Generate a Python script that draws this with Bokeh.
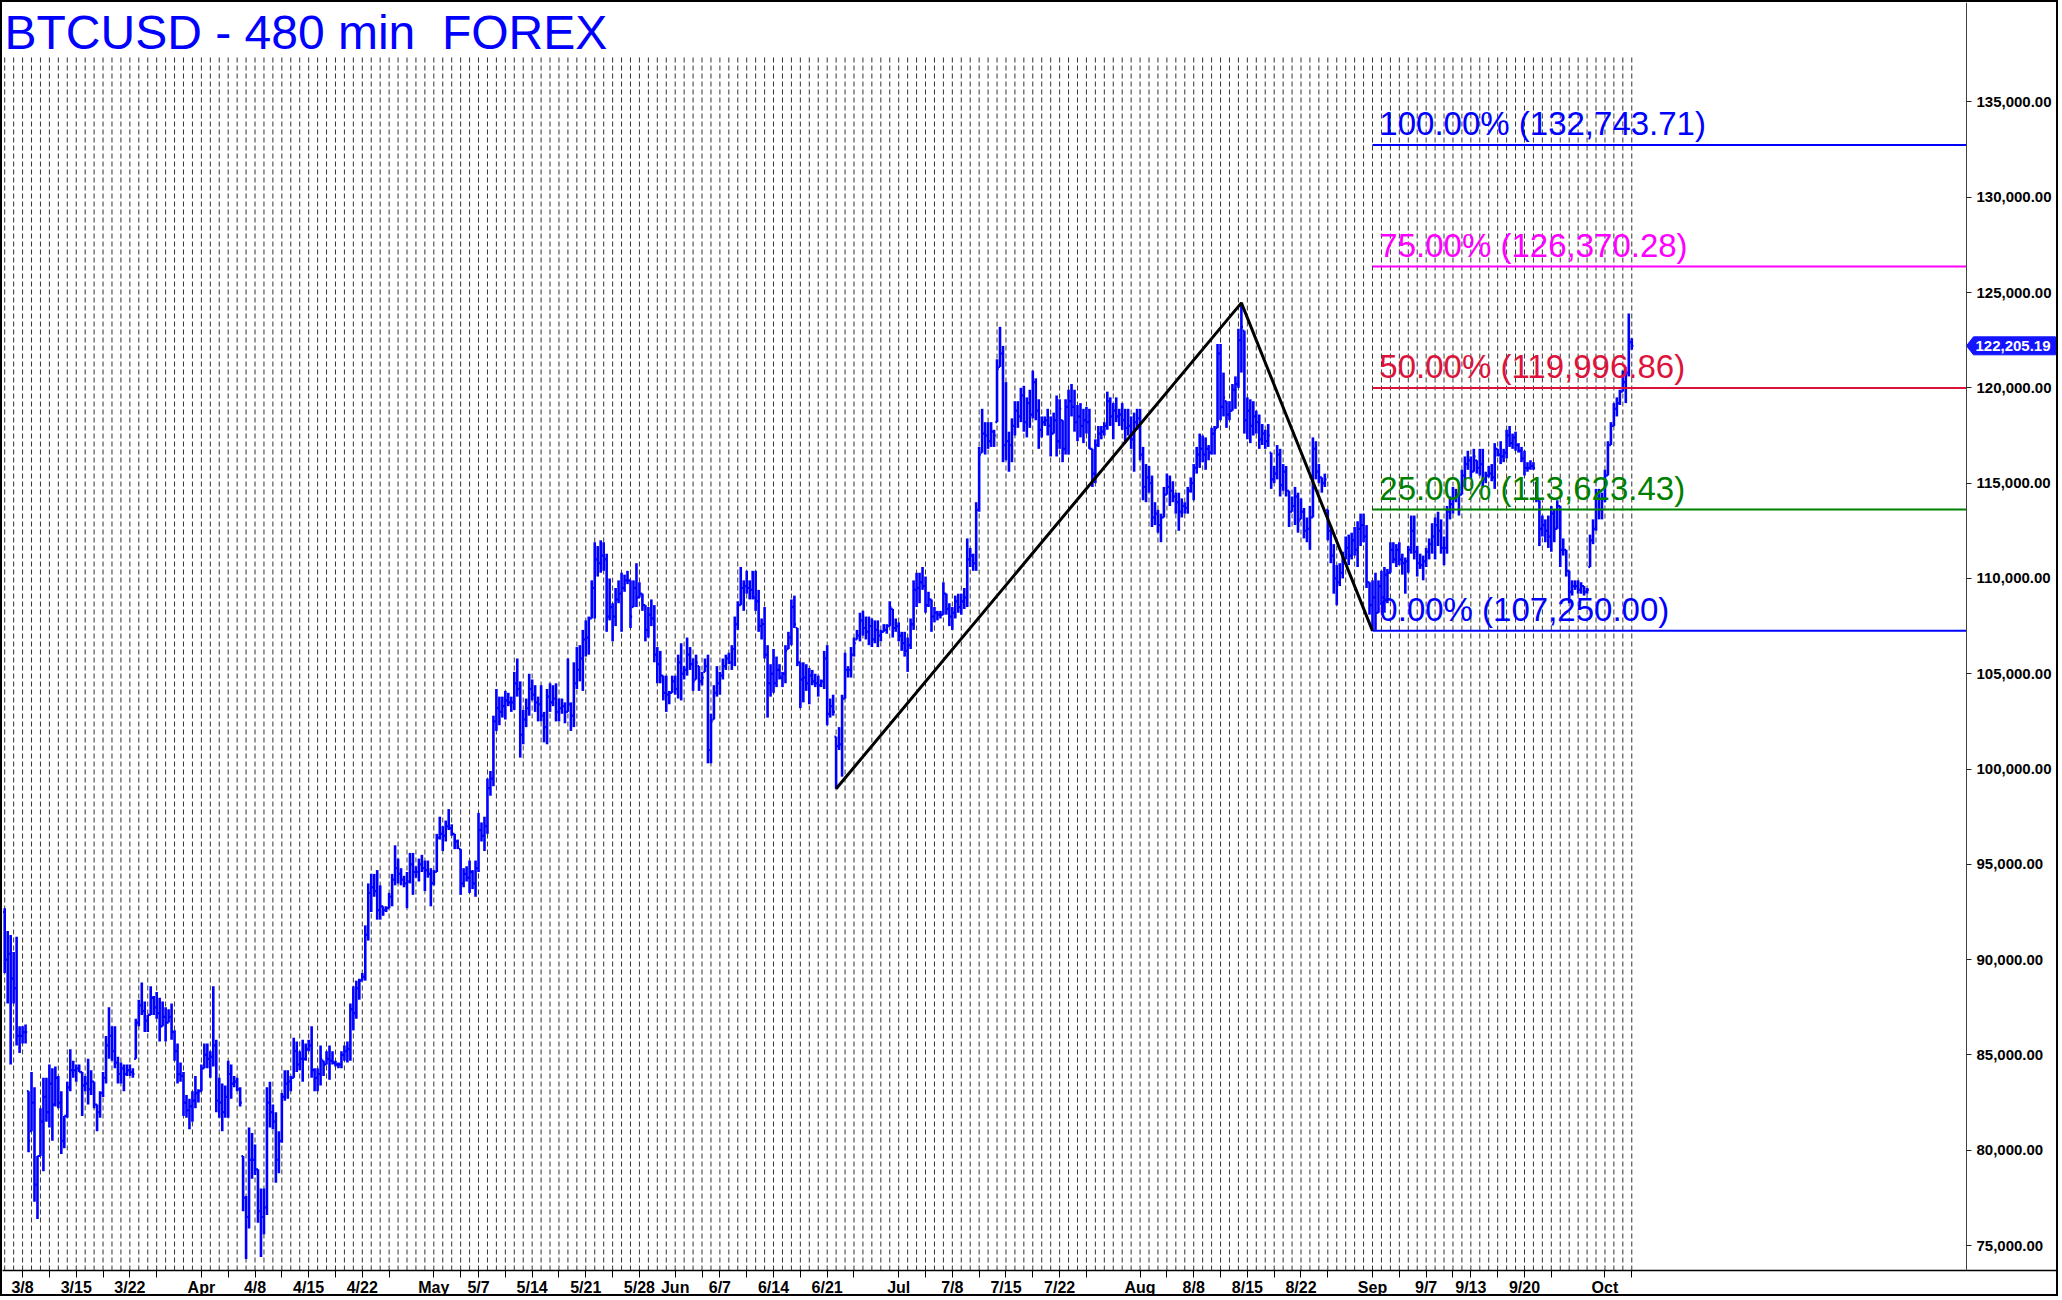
from datetime import date, timedelta
from decimal import Decimal, ROUND_HALF_UP
from bokeh.plotting import figure
from bokeh.models import Range1d, FixedTicker, NumeralTickFormatter, ColumnDataSource
from bokeh.core.properties import value
from bokeh.embed import file_html
from bokeh.resources import INLINE

# ---------------- data (8-hour bars, prices in thousands USD) ----------------
high_k = [
 92.7, 91.5, 91.3, 90.4, 91.2, 86.5, 86.5, 86.6, 83.1, 84.1,
 83.3, 79.7, 82.2, 83.8, 83.8, 84.5, 84.3, 84.4, 83.9, 83.1,
 81.8, 83.6, 85.3, 84.7, 84.5, 84.5, 84.1, 83.9, 84.8, 84.2,
 83.6, 82.4, 83.1, 84.1, 86.0, 87.5, 86.5, 86.5, 84.9, 84.6,
 84.5, 84.5, 84.5, 84.3, 86.9, 87.9, 88.8, 87.8, 87.1, 88.6,
 88.1, 88.3, 88.0, 87.8, 87.5, 87.4, 87.7, 86.3, 85.6, 84.6,
 84.1, 82.9, 82.7, 83.1, 83.9, 83.2, 84.5, 85.6, 85.6, 85.2,
 88.6, 85.8, 83.8, 83.5, 83.4, 84.7, 84.5, 83.9, 83.8, 83.3,
 79.7, 77.6, 81.2, 80.9, 80.3, 79.0, 78.0, 78.0, 83.3, 83.6,
 82.4, 82.0, 81.0, 83.0, 84.2, 84.2, 83.9, 85.9, 85.7, 85.2,
 85.8, 85.6, 85.8, 86.5, 84.3, 84.3, 85.5, 84.7, 85.2, 85.5,
 85.2, 84.7, 84.6, 85.2, 85.5, 85.7, 87.7, 88.6, 88.9, 89.0,
 89.3, 91.8, 94.0, 94.5, 94.5, 94.7, 93.9, 92.8, 92.8, 93.5,
 94.5, 96.0, 95.3, 94.8, 94.4, 94.6, 95.6, 95.6, 94.9, 95.3,
 95.5, 95.2, 95.2, 94.8, 94.7, 96.6, 97.5, 97.0, 97.3, 97.9,
 97.1, 96.6, 96.3, 95.8, 94.8, 94.9, 95.2, 94.7, 95.2, 97.7,
 97.2, 97.5, 99.5, 99.9, 102.8, 104.2, 103.8, 103.8, 104.1, 104.0,
 103.8, 105.1, 105.8, 104.6, 103.1, 103.7, 105.0, 104.7, 104.4, 103.8,
 104.4, 103.0, 104.2, 104.5, 104.4, 104.5, 103.7, 103.7, 103.5, 105.8,
 103.5, 105.6, 106.4, 106.5, 107.3, 107.8, 108.0, 109.9, 111.9, 111.7,
 112.0, 111.9, 111.3, 110.0, 108.7, 109.5, 109.9, 110.3, 110.2, 110.4,
 109.9, 109.9, 110.8, 109.8, 109.2, 108.6, 108.5, 108.9, 108.6, 106.4,
 106.2, 104.9, 104.9, 104.1, 104.9, 104.9, 106.0, 106.6, 105.4, 106.9,
 106.4, 105.8, 106.0, 105.4, 105.1, 105.8, 106.0, 102.9, 104.4, 105.4,
 105.1, 105.8, 106.0, 106.1, 106.5, 108.0, 108.8, 110.6, 109.9, 110.4,
 109.9, 110.4, 110.4, 109.4, 107.9, 108.5, 106.5, 105.5, 106.3, 105.9,
 105.5, 105.1, 106.5, 107.2, 108.9, 109.1, 107.4, 105.6, 105.6, 105.5,
 105.3, 105.2, 105.0, 104.9, 104.7, 106.2, 106.5, 103.7, 103.9, 101.7,
 102.2, 103.9, 106.1, 105.4, 106.4, 106.9, 107.3, 108.2, 108.3, 108.0,
 108.0, 107.9, 107.8, 107.8, 107.3, 107.6, 107.6, 108.8, 108.4, 107.9,
 107.7, 107.2, 107.2, 106.9, 107.9, 109.9, 110.3, 110.3, 110.6, 110.1,
 109.3, 108.9, 108.5, 108.3, 108.3, 109.8, 109.2, 108.7, 108.5, 109.1,
 109.2, 109.2, 109.5, 112.1, 111.6, 111.3, 114.0, 116.9, 118.9, 118.2,
 118.2, 118.2, 117.8, 121.5, 123.2, 122.2, 120.3, 117.7, 118.4, 119.3,
 119.3, 120.0, 120.1, 119.5, 119.9, 120.9, 120.5, 119.4, 118.5, 118.5,
 118.9, 118.5, 118.7, 119.6, 119.4, 118.3, 119.4, 119.9, 120.2, 119.9,
 119.1, 119.2, 118.9, 119.0, 118.9, 116.8, 117.3, 118.0, 118.0, 118.2,
 119.8, 119.5, 119.2, 119.5, 118.9, 119.2, 118.9, 118.9, 118.5, 118.7,
 118.9, 118.9, 116.9, 116.0, 115.9, 115.4, 114.0, 113.6, 113.4, 114.8,
 115.5, 115.4, 115.1, 114.5, 114.5, 114.2, 114.0, 114.8, 115.3, 116.0,
 116.9, 117.6, 117.5, 117.4, 117.0, 117.9, 118.0, 122.3, 122.3, 120.8,
 119.3, 119.3, 120.2, 120.6, 123.1, 124.45712, 123.0, 119.5, 119.4, 119.3,
 118.8, 118.6, 118.1, 117.8, 118.1, 116.6, 115.9, 117.0, 116.8, 116.0,
 115.9, 114.6, 114.3, 114.8, 114.5, 114.2, 113.7, 113.2, 113.8, 117.4,
 117.2, 116.0, 115.3, 115.5, 113.6, 112.8, 111.8, 110.7, 110.8, 111.4,
 112.2, 112.3, 112.4, 112.7, 113.0, 113.4, 113.4, 112.8, 109.8, 109.9,
 110.3, 109.9, 110.4, 110.6, 110.5, 111.9, 111.9, 111.8, 111.9, 111.3,
 111.1, 111.7, 113.3, 113.3, 111.7, 111.3, 111.2, 111.6, 112.1, 112.9,
 113.2, 113.5, 113.1, 112.2, 113.8, 114.3, 114.8, 114.7, 114.5, 115.7,
 116.4, 116.7, 116.4, 116.8, 116.2, 116.8, 116.8, 115.6, 115.9, 116.0,
 117.1, 116.8, 117.2, 116.8, 117.8, 118.0, 117.6, 117.7, 117.1, 116.9,
 116.7, 116.1, 116.2, 116.1, 115.0, 114.1, 113.3, 113.1, 113.3, 113.8,
 113.6, 114.1, 113.8, 112.1, 111.5, 110.4, 109.9, 109.9, 109.9, 109.8,
 109.6, 109.5, 112.3, 113.1, 114.7, 114.7, 114.5, 115.7, 117.2, 118.2,
 119.2, 119.5, 119.9, 120.9, 121.1, 123.9, 122.6]

low_k = [
 89.3, 87.7, 84.5, 87.7, 85.5, 85.1, 85.6, 85.6, 79.9, 81.0,
 77.3, 76.4, 79.7, 78.9, 81.5, 81.2, 80.5, 82.3, 82.2, 79.8,
 80.1, 81.7, 83.1, 83.8, 83.6, 84.1, 81.8, 83.1, 82.4, 82.9,
 82.2, 81.0, 81.7, 82.8, 83.5, 84.8, 84.7, 84.3, 83.5, 83.5,
 83.1, 83.9, 83.9, 83.8, 84.8, 86.5, 87.1, 86.2, 86.2, 87.1,
 87.1, 86.9, 85.7, 86.5, 85.7, 86.7, 85.8, 84.7, 83.5, 83.6,
 81.8, 81.7, 81.1, 81.5, 82.2, 82.5, 83.1, 84.3, 84.3, 83.8,
 84.4, 82.0, 81.7, 81.0, 81.7, 81.7, 82.7, 83.3, 83.1, 82.3,
 76.8, 74.3, 75.9, 78.5, 78.7, 76.2, 74.4, 75.6, 76.6, 81.2,
 81.1, 78.3, 78.8, 80.4, 82.6, 82.7, 83.1, 83.8, 84.1, 84.2,
 83.6, 84.7, 85.2, 83.8, 83.1, 83.1, 83.4, 83.9, 84.5, 83.7,
 84.5, 84.4, 84.3, 84.3, 84.7, 84.6, 84.7, 86.3, 86.9, 87.9,
 88.9, 88.9, 91.0, 92.5, 93.3, 92.1, 92.1, 92.3, 92.5, 92.7,
 92.8, 93.9, 94.0, 93.9, 93.8, 92.7, 94.0, 93.4, 94.3, 94.1,
 94.6, 93.6, 94.3, 92.8, 93.9, 94.6, 96.3, 95.7, 96.2, 96.8,
 96.5, 95.8, 95.8, 93.4, 93.8, 94.1, 93.5, 93.7, 93.3, 94.6,
 96.2, 95.7, 96.6, 98.6, 99.1, 102.0, 102.3, 102.7, 102.6, 103.3,
 103.0, 103.1, 103.8, 100.6, 101.3, 102.2, 102.8, 103.6, 103.0, 102.5,
 102.5, 101.4, 101.3, 103.0, 103.3, 102.5, 102.5, 102.9, 102.4, 103.0,
 102.0, 102.2, 104.2, 104.6, 104.1, 105.9, 106.0, 107.9, 107.9, 110.1,
 110.3, 110.4, 107.2, 107.8, 106.7, 107.5, 108.7, 107.2, 109.3, 109.7,
 107.4, 108.5, 108.5, 109.0, 108.3, 106.7, 106.9, 107.5, 105.6, 104.5,
 104.5, 103.6, 103.0, 103.4, 104.0, 103.9, 103.7, 103.6, 104.7, 104.9,
 105.2, 104.1, 104.7, 104.1, 104.4, 105.1, 100.3, 100.3, 102.6, 103.8,
 103.9, 104.7, 105.2, 105.5, 105.2, 105.4, 107.3, 108.6, 108.3, 109.2,
 108.9, 108.9, 108.3, 107.2, 106.8, 105.8, 102.7, 103.8, 104.0, 104.3,
 104.7, 104.3, 104.5, 106.3, 106.5, 107.4, 105.4, 103.2, 103.5, 104.1,
 103.4, 104.4, 104.3, 103.8, 104.3, 104.2, 102.3, 102.7, 102.8, 98.96341,
 101.0, 99.6, 103.7, 104.8, 104.8, 105.9, 106.8, 106.7, 107.0, 106.8,
 106.5, 106.4, 106.6, 106.4, 106.7, 107.2, 107.1, 107.5, 106.9, 107.2,
 106.7, 106.2, 105.9, 105.1, 106.3, 107.3, 108.5, 108.7, 109.4, 108.2,
 108.5, 107.2, 107.7, 107.8, 107.9, 108.1, 108.1, 107.5, 107.3, 107.9,
 108.2, 108.1, 108.4, 108.5, 110.6, 110.4, 110.4, 113.5, 116.6, 116.5,
 116.8, 116.9, 116.9, 118.2, 121.1, 116.1, 116.2, 115.6, 116.1, 117.5,
 117.9, 118.2, 117.7, 117.4, 117.9, 118.4, 118.3, 116.8, 117.4, 118.0,
 117.5, 116.4, 117.6, 116.4, 116.8, 116.1, 116.5, 116.5, 118.5, 117.7,
 117.2, 117.4, 117.1, 117.6, 116.8, 114.8, 115.0, 116.9, 117.3, 117.5,
 117.8, 118.0, 117.3, 118.2, 118.0, 117.8, 117.1, 117.5, 116.8, 115.6,
 117.8, 116.2, 114.1, 114.0, 114.5, 112.7, 112.8, 112.4, 111.9, 113.2,
 114.4, 113.8, 114.0, 113.4, 112.5, 113.2, 113.4, 113.4, 114.5, 114.1,
 115.5, 115.8, 116.1, 115.7, 116.2, 116.5, 116.5, 117.9, 118.3, 118.5,
 117.9, 118.3, 118.8, 118.9, 120.0, 120.8, 117.6, 117.3, 117.1, 117.5,
 117.6, 116.8, 117.0, 116.8, 116.9, 114.7, 115.0, 115.2, 114.3, 114.6,
 114.3, 112.7, 113.5, 112.8, 112.4, 113.1, 112.1, 111.9, 111.5, 113.2,
 115.2, 115.0, 114.5, 114.8, 112.0, 110.8, 109.2, 108.6, 109.6, 110.0,
 111.0, 110.7, 111.0, 111.2, 110.6, 111.7, 111.9, 109.5, 108.1, 107.25,
 107.3, 108.2, 108.6, 108.2, 108.7, 110.3, 110.8, 110.6, 110.7, 110.2,
 109.2, 110.3, 111.3, 111.0, 110.1, 110.5, 109.9, 110.6, 111.0, 111.3,
 111.0, 111.7, 111.3, 110.7, 111.3, 113.1, 113.4, 114.0, 113.3, 114.4,
 114.8, 115.7, 115.2, 115.6, 115.5, 115.4, 114.8, 115.0, 115.3, 115.1,
 114.7, 116.4, 116.0, 116.1, 116.3, 116.9, 116.8, 116.7, 116.6, 116.1,
 115.4, 115.6, 115.7, 115.7, 114.0, 111.7, 112.2, 111.9, 111.6, 111.4,
 111.9, 112.6, 110.6, 111.2, 110.1, 108.7, 109.1, 109.4, 109.2, 109.2,
 109.1, 109.2, 110.6, 111.8, 112.5, 113.1, 113.1, 114.0, 115.4, 117.0,
 118.0, 118.5, 119.1, 119.8, 119.2, 120.6, 122.0]

close_k = [
 90.0, 90.3, 89.0, 88.5, 86.0, 86.0, 86.2, 86.2, 80.5, 82.5,
 78.2, 79.7, 81.5, 82.8, 82.0, 83.5, 82.4, 83.8, 82.5, 80.5,
 81.8, 83.3, 84.2, 84.2, 84.3, 84.1, 83.4, 83.5, 83.2, 83.6,
 82.4, 82.0, 83.0, 83.8, 85.5, 86.0, 85.2, 84.6, 84.0, 84.3,
 84.0, 84.2, 84.1, 84.0, 86.7, 87.6, 87.3, 86.8, 87.1, 88.0,
 87.5, 87.2, 86.5, 87.0, 86.7, 87.0, 86.2, 85.2, 84.0, 83.9,
 82.5, 82.1, 82.3, 82.6, 83.0, 83.1, 84.3, 85.0, 84.8, 84.9,
 85.5, 82.6, 82.5, 82.0, 82.8, 84.0, 83.5, 83.6, 83.2, 82.5,
 77.5, 76.5, 79.5, 79.5, 79.0, 76.8, 76.5, 77.0, 82.5, 82.0,
 81.5, 79.5, 80.5, 82.8, 83.5, 83.6, 83.8, 85.2, 84.5, 84.8,
 84.8, 85.3, 85.5, 84.2, 83.8, 84.0, 84.8, 84.5, 84.8, 84.7,
 84.6, 84.5, 84.5, 85.0, 85.2, 85.3, 87.4, 87.2, 88.5, 88.9,
 89.1, 91.3, 93.5, 93.8, 93.6, 92.6, 92.8, 92.6, 92.7, 93.3,
 94.2, 94.8, 94.5, 94.2, 94.0, 94.1, 95.0, 94.6, 94.6, 95.0,
 94.8, 94.7, 94.5, 94.0, 94.6, 96.4, 96.6, 96.5, 97.0, 96.9,
 96.6, 96.2, 95.9, 94.0, 94.5, 94.3, 94.6, 94.0, 94.8, 96.8,
 96.5, 97.0, 99.0, 99.5, 102.5, 103.2, 103.0, 103.3, 103.6, 103.5,
 103.5, 104.5, 104.2, 101.8, 102.6, 103.2, 104.2, 103.9, 103.5, 103.4,
 102.8, 102.2, 103.8, 103.5, 103.7, 103.0, 103.2, 103.3, 103.0, 103.4,
 102.8, 104.5, 105.2, 105.8, 106.8, 106.9, 107.9, 109.5, 111.0, 110.8,
 111.2, 111.0, 108.0, 108.5, 108.0, 108.9, 109.2, 109.5, 109.9, 109.9,
 108.0, 109.5, 109.0, 109.2, 108.6, 107.3, 108.1, 107.9, 106.0, 105.5,
 104.9, 104.0, 103.9, 104.0, 104.6, 104.2, 105.6, 105.0, 105.2, 106.0,
 105.5, 104.6, 105.6, 104.6, 104.8, 105.4, 101.0, 102.5, 104.0, 104.5,
 104.9, 105.4, 105.8, 105.6, 106.3, 107.6, 108.6, 109.5, 109.6, 109.5,
 109.4, 109.0, 108.8, 107.5, 107.6, 106.0, 104.5, 105.0, 104.5, 105.2,
 104.8, 105.0, 106.2, 106.9, 108.5, 107.6, 105.6, 104.7, 104.8, 104.5,
 104.9, 104.6, 104.5, 104.4, 104.6, 105.8, 102.9, 103.3, 103.0, 101.2,
 101.3, 103.7, 105.2, 105.2, 106.0, 106.6, 107.0, 107.8, 107.4, 107.2,
 107.5, 106.8, 107.3, 107.0, 107.2, 107.3, 107.5, 108.5, 107.4, 107.5,
 107.0, 106.6, 106.2, 106.5, 107.6, 109.4, 109.5, 109.8, 109.6, 108.6,
 108.9, 108.0, 108.2, 108.1, 108.1, 109.2, 108.4, 108.0, 108.2, 108.8,
 108.5, 108.8, 109.0, 111.0, 111.2, 110.8, 113.6, 116.5, 117.6, 117.5,
 117.2, 117.7, 117.5, 121.0, 121.8, 117.0, 117.2, 117.0, 118.0, 118.8,
 118.5, 119.6, 118.2, 119.2, 118.6, 120.3, 118.8, 117.8, 118.2, 118.3,
 118.0, 117.6, 118.3, 117.2, 118.9, 116.8, 119.0, 119.3, 119.0, 118.2,
 118.5, 118.0, 118.3, 118.2, 116.8, 115.5, 117.0, 117.6, 117.7, 118.0,
 119.3, 118.5, 118.8, 118.5, 118.6, 118.3, 117.9, 118.0, 117.3, 118.2,
 118.4, 116.5, 114.8, 115.3, 115.0, 113.2, 113.4, 112.8, 113.2, 114.4,
 114.8, 114.6, 114.3, 114.0, 113.5, 113.8, 113.7, 114.6, 115.0, 115.8,
 116.5, 116.8, 116.5, 116.8, 116.6, 117.6, 117.8, 121.8, 119.0, 119.5,
 118.6, 118.8, 119.9, 120.2, 122.5, 123.2, 118.3, 118.8, 118.0, 118.5,
 118.2, 117.3, 117.6, 117.2, 117.5, 115.2, 115.5, 116.5, 114.9, 115.6,
 114.6, 113.5, 113.8, 114.3, 113.0, 113.5, 112.5, 112.6, 113.2, 116.8,
 115.6, 115.3, 115.0, 115.2, 112.5, 111.2, 110.0, 109.8, 110.3, 111.0,
 111.6, 111.2, 112.0, 111.5, 112.6, 112.8, 112.2, 109.8, 108.6, 109.0,
 108.2, 109.6, 109.0, 110.2, 110.3, 111.5, 111.0, 111.5, 111.0, 110.8,
 110.9, 111.5, 112.5, 111.4, 110.8, 110.7, 110.9, 111.4, 111.8, 112.2,
 112.8, 112.5, 111.6, 111.6, 113.5, 113.9, 114.2, 114.3, 114.4, 115.4,
 116.0, 116.2, 115.6, 116.4, 115.8, 116.0, 115.2, 115.4, 115.5, 115.3,
 116.8, 116.5, 116.4, 116.6, 117.5, 117.1, 117.4, 117.0, 116.7, 116.3,
 115.8, 115.8, 115.9, 115.8, 114.3, 112.6, 112.8, 112.5, 112.2, 113.4,
 112.6, 113.8, 111.5, 111.5, 110.4, 109.3, 109.6, 109.6, 109.4, 109.6,
 109.3, 109.4, 112.0, 112.6, 114.2, 113.6, 114.2, 115.4, 117.0, 118.0,
 118.9, 119.2, 119.8, 120.3, 120.8, 122.4, 122.20519]

first_open_k = 92.5

tick_labels = ["3/8", "3/15", "3/22", "Apr", "4/8", "4/15", "4/22", "May", "5/7", "5/14",
               "5/21", "5/28", "Jun", "6/7", "6/14", "6/21", "Jul", "7/8", "7/15", "7/22",
               "Aug", "8/8", "8/15", "8/22", "Sep", "9/7", "9/13", "9/20", "Oct"]
tick_dates = ["2025-03-08", "2025-03-15", "2025-03-22", "2025-04-01", "2025-04-08", "2025-04-15",
              "2025-04-22", "2025-05-01", "2025-05-07", "2025-05-14", "2025-05-21", "2025-05-28",
              "2025-06-01", "2025-06-07", "2025-06-14", "2025-06-21", "2025-07-01", "2025-07-08",
              "2025-07-15", "2025-07-22", "2025-08-01", "2025-08-08", "2025-08-15", "2025-08-22",
              "2025-09-01", "2025-09-07", "2025-09-13", "2025-09-20", "2025-10-01"]
fib_pcts = [0.0, 0.25, 0.5, 0.75, 1.0]
fib_colors = ["#0000FF", "#008000", "#DC143C", "#FF00FF", "#0000FF"]
y_ticks = list(range(75000, 140000, 5000))
title_text = "BTCUSD - 480 min\u00a0 FOREX"

# ---------------- derived ----------------
N = len(high_k)
hi = [v * 1000 for v in high_k]
lo = [v * 1000 for v in low_k]
cl = [v * 1000 for v in close_k]
op = []
prev = first_open_k * 1000
for k in range(N):
    op.append(min(max(prev, lo[k]), hi[k]))
    prev = cl[k]

# trading calendar: 3 bars a day, Sundays absent
bar_day = []
d = date(2025, 3, 6)
while len(bar_day) < N:
    if d.weekday() != 6:
        bar_day.extend([d] * 3)
    d += timedelta(days=1)
bar_day = bar_day[:N]

def first_bar(ds):
    t = date.fromisoformat(ds)
    for k, bd in enumerate(bar_day):
        if bd >= t:
            return k
    return N - 1

tick_pos = [first_bar(s) for s in tick_dates]
minor_pos = []
for a, b in zip(tick_pos, tick_pos[1:] + [N + 20]):
    if b - a >= 15 and a + 9 <= N - 1:
        minor_pos.append(a + 9)
grid_pos = list(range(0, N, 3))

# swing points
iA = min(range(250, 300), key=lambda k: lo[k])
iB = max(range(380, 440), key=lambda k: hi[k])
iC = min(range(440, 480), key=lambda k: lo[k])
A, B, C = lo[iA], hi[iB], lo[iC]
levels = [C + f * (B - A) for f in fib_pcts]

def fmt(v):
    q = Decimal(repr(round(v, 6))).quantize(Decimal("0.01"), rounding=ROUND_HALF_UP)
    return "{:,.2f}".format(q)

fib_text = ["{:.2f}% ({})".format(f * 100, fmt(v)) for f, v in zip(fib_pcts, levels)]

# ---------------- figure ----------------
W, H = 2058, 1296
MB_B = 26
x0, x1 = -0.738, 689.87
y0, y1 = 73692.0, 140217.0
axis_x = 658.32                       # price scale line position
px_x = (x1 - x0) / W                  # data units per pixel
px_y = (y1 - y0) / (H - MB_B)

p = figure(width=W, height=H, output_backend="svg", toolbar_location=None, tools="",
           title=None, x_range=Range1d(x0, x1), y_range=Range1d(y0, y1), y_axis_location="right",
           min_border_left=0, min_border_top=0, min_border_right=0, min_border_bottom=MB_B,
           background_fill_color="white", border_fill_color="white")
p.styles = {"border": "2px solid black"}
p.outline_line_color = None
p.xgrid.visible = False
p.ygrid.visible = False

# bottom axis
xa = p.xaxis[0]
xa.ticker = FixedTicker(ticks=tick_pos, minor_ticks=minor_pos)
xa.major_label_overrides = {t: l for t, l in zip(tick_pos, tick_labels)}
xa.axis_line_color = "black"
xa.axis_line_width = 1.5
xa.major_tick_out = 7
xa.major_tick_in = 0
xa.minor_tick_out = 7
xa.minor_tick_in = 0
xa.major_tick_line_color = "black"
xa.minor_tick_line_color = "black"
xa.major_label_text_font = "Liberation Sans"
xa.major_label_text_font_style = "bold"
xa.major_label_text_font_size = "16px"
xa.major_label_text_color = "black"
xa.major_label_standoff = 1

# price scale (inside the frame, at a fixed location)
ya = p.yaxis[0]
ya.fixed_location = axis_x
ya.ticker = FixedTicker(ticks=y_ticks)
ya.formatter = NumeralTickFormatter(format="0,0.00")
ya.axis_line_color = "#404040"
ya.major_tick_out = 5
ya.major_tick_in = 0
ya.minor_tick_line_color = None
ya.major_tick_line_color = "#202020"
ya.major_label_text_font = "Liberation Sans"
ya.major_label_text_font_style = "bold"
ya.major_label_text_font_size = "15px"
ya.major_label_text_color = "black"
ya.major_label_standoff = 5

# dashed vertical day grid
grid_top = y1 - 55 * px_y
p.segment(x0=grid_pos, y0=[y0] * len(grid_pos), x1=grid_pos, y1=[grid_top] * len(grid_pos),
          line_color="#333333", line_width=1, line_dash="5 3")

# OHLC bars
xs = list(range(N))
src = ColumnDataSource(dict(x=xs, xl=[k - 0.55 for k in xs], xr=[k + 0.55 for k in xs],
                            o=op, h=hi, l=lo, c=cl))
bar_col = "#0000FF"
p.segment(x0="x", y0="l", x1="x", y1="h", source=src, line_color=bar_col, line_width=2.6)
p.segment(x0="xl", y0="o", x1="x", y1="o", source=src, line_color=bar_col, line_width=2.2)
p.segment(x0="x", y0="c", x1="xr", y1="c", source=src, line_color=bar_col, line_width=2.2)

# swing line A-B-C
p.line(x=[iA, iB, iC], y=[A, B, C], line_color="black", line_width=3)

# fib projection lines + labels
n = len(levels)
p.segment(x0=[iC] * n, y0=levels, x1=[axis_x] * n, y1=levels, line_color=fib_colors, line_width=2)
p.text(x=[iC + 2.3] * n, y=[v + 21 * px_y for v in levels], text=fib_text, text_color=fib_colors,
       text_font=value("Liberation Sans"), text_font_size="33px",
       text_baseline="middle", text_align="left")

# title
p.text(x=[x0 + 2 * px_x], y=[y1 - 30 * px_y], text=[title_text], text_color="#0000FF",
       text_font=value("Liberation Sans"), text_font_size="48px",
       text_baseline="middle", text_align="left")

# last price badge
last = cl[-1]
bx = [axis_x, axis_x + 7 * px_x, axis_x + 89 * px_x, axis_x + 89 * px_x, axis_x + 7 * px_x]
by = [last, last + 9 * px_y, last + 9 * px_y, last - 9 * px_y, last - 9 * px_y]
p.patch(x=bx, y=by, fill_color="#1414FF", line_color="#1414FF", line_width=1)
p.text(x=[axis_x + 9 * px_x], y=[last], text=[fmt(last)], text_color="white",
       text_font=value("Liberation Sans"), text_font_style="bold", text_font_size="15px",
       text_baseline="middle", text_align="left")

open("out.html", "w").write(file_html(p, INLINE))
